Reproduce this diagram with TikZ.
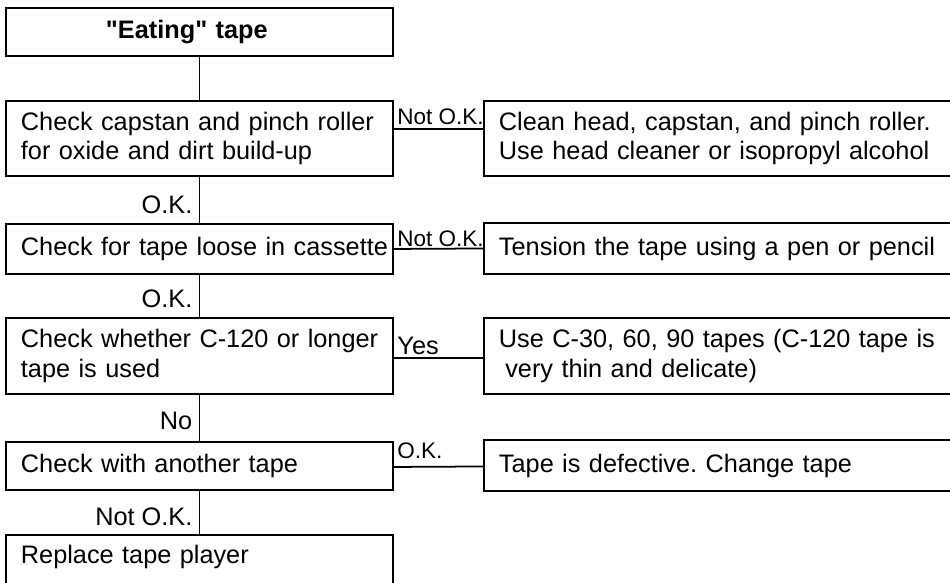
\documentclass[tikz,border=0pt]{standalone}
\usepackage{fontspec}
\setmainfont{Liberation Sans}
\frenchspacing
\begin{document}
\begin{tikzpicture}[
    x=0.02cm, y=-0.02cm,
    stepbox/.style={draw, line width=1.1pt, anchor=north west, inner xsep=0.3cm, inner ysep=0pt, align=left, font=\fontsize{14.4}{16.8}\selectfont},
    leftbox/.style={stepbox, minimum width=7.74cm, text width=7.14cm},
    rightbox/.style={stepbox, minimum width=9.8cm, text width=9.2cm},
    link/.style={line width=1pt},
    answer/.style={font=\fontsize{14.4}{16.8}\selectfont, inner sep=1pt},
    branch/.style={answer, font=\fontsize{12.8}{15}\selectfont, pos=0, anchor=base west, xshift=0.02cm}
]
\useasboundingbox (0,0) rectangle (950,582);

\node[leftbox, minimum height=0.96cm, font=\bfseries\fontsize{14.4}{16.8}\selectfont] (eating) at (5,7) {\hspace*{1.7cm}\textquotedbl Eating\textquotedbl{} tape};
\node[leftbox, minimum height=1.5cm] (capstan) at (5,100) {\mbox{Check capstan and pinch roller}\\for oxide and dirt build-up};
\node[leftbox, minimum height=1cm] (loose) at (5,223) {\mbox{Check for tape loose in cassette}};
\node[leftbox, minimum height=1.52cm] (longer) at (5,317) {\mbox{Check whether C-120 or longer}\\tape is used};
\node[leftbox, minimum height=0.96cm] (another) at (5,441) {Check with another tape};
\node[leftbox, text depth=1.2cm, inner ysep=0.2cm] (replace) at (5,534) {Replace tape player};

\node[rightbox, minimum height=1.5cm] (clean) at (483,100) {Clean head, capstan, and pinch roller.\\Use head cleaner or isopropyl alcohol};
\node[rightbox, minimum height=1.02cm] (tension) at (483,222) {Tension the tape using a pen or pencil};
\node[rightbox, minimum height=1.52cm] (thin) at (483,317) {Use C-30, 60, 90 tapes (C-120 tape is\\\hspace*{0.25em}very thin and delicate)};
\node[rightbox, minimum height=1.02cm] (defective) at (483,439) {Tape is defective. Change tape};

\draw[link] (eating) -- (capstan);
\draw[link] (capstan) -- (loose);
\draw[link] (loose) -- (longer);
\draw[link] (longer) -- (another);
\draw[link] (another) -- (replace);

\node[answer, anchor=base east] (okone) at ([xshift=-0.1cm, yshift=0.2cm]loose.north) {O.K.};
\node[answer, anchor=base east] (oktwo) at ([xshift=-0.1cm, yshift=0.2cm]longer.north) {O.K.};
\node[answer, anchor=base east] (no) at ([xshift=-0.1cm, yshift=0.24cm]another.north) {No};
\node[answer, anchor=base east] (notok) at ([xshift=-0.1cm, yshift=0.18cm]replace.north) {Not O.K.};

\draw[link] ([yshift=0.19cm]capstan.east) -- ([yshift=0.19cm]clean.west) node[branch, yshift=0.08cm] (notokone) {Not O.K.};
\draw[link] (loose.east) -- (tension.west) node[branch, yshift=0.04cm] (notoktwo) {Not O.K.};
\draw[link] ([yshift=-0.04cm]longer.east) -- ([yshift=-0.04cm]thin.west) node[branch, font=\fontsize{14.4}{16.8}\selectfont, yshift=0.06cm] (yes) {Yes};
\draw[link] ([yshift=-0.02cm]another.east) -- ([yshift=-0.02cm]defective.west) node[branch, yshift=0.16cm] (okthree) {O.K.};
\end{tikzpicture}
\end{document}
